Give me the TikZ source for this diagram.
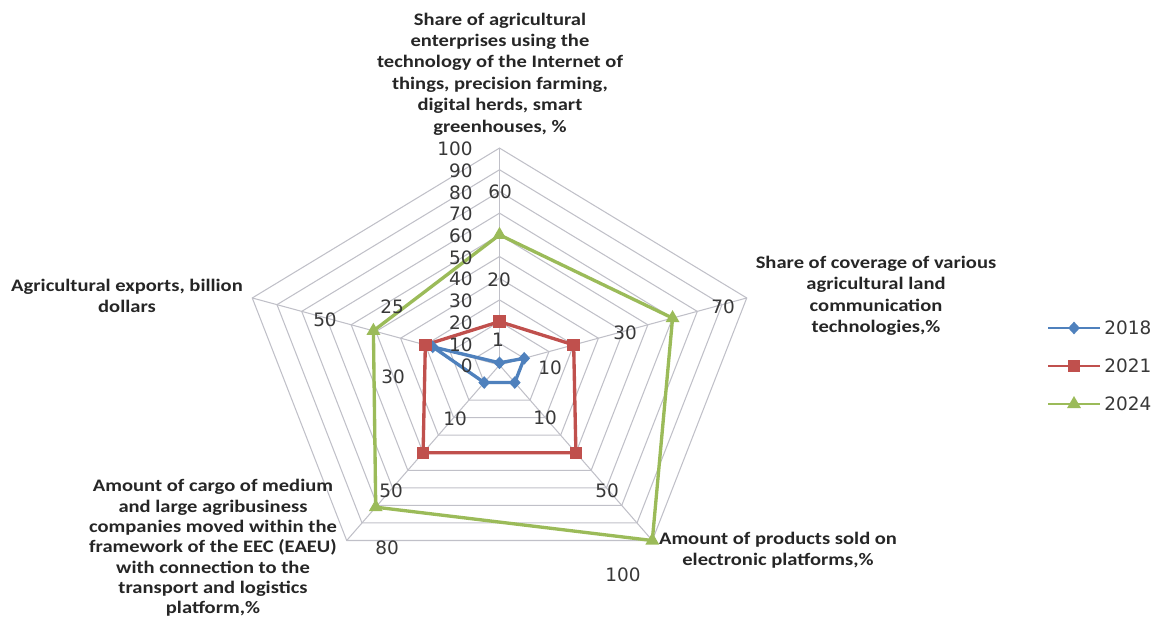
\documentclass[tikz,border=0pt]{standalone}
\usepackage{fontspec}
\setmainfont{Carlito}
\newfontfamily\numfont{DejaVu Sans}
\usetikzlibrary{shapes.geometric}

\definecolor{serA}{HTML}{4F81BD}
\definecolor{serB}{HTML}{C0504D}
\definecolor{serC}{HTML}{9BBB59}
\definecolor{gridc}{HTML}{C0C0C8}
\definecolor{numc}{HTML}{383838}

\begin{document}
\begin{tikzpicture}[x=0.02cm,y=-0.02cm,
  cat/.style={font=\bfseries\fontsize{10}{12.2}\selectfont,align=center,text=black!85,inner sep=0pt,xscale=1.17},
  num/.style={font=\numfont\fontsize{10.5}{12}\selectfont,text=numc,inner sep=0pt},
  gridln/.style={gridc,line width=0.6pt},
  line18/.style={serA,line width=1.9pt,line join=round},
  line21/.style={serB,line width=1.9pt,line join=round},
  line24/.style={serC,line width=1.9pt,line join=round},
  mark18/.style={diamond,fill=serA,inner sep=0pt,minimum width=0.24cm,minimum height=0.26cm},
  mark21/.style={rectangle,fill=serB,inner sep=0pt,minimum size=0.25cm},
  mark24/.style={regular polygon,regular polygon sides=3,fill=serC,inner sep=0pt,minimum size=0.32cm}]

 \useasboundingbox (0,0) rectangle (1159,619);
 \def\cx{499.5}
 \def\cy{365}

 \begin{scope}[shift={(\cx,\cy)}, x=0.052cm, y=0.0434cm]

  %grid
  \foreach \r in {10,20,...,100}
   \draw[gridln] (90:\r) -- (18:\r) -- (-54:\r) -- (-126:\r) -- (162:\r) -- cycle;
  \foreach \a in {90,18,-54,-126,162}
   \draw[gridln] (0,0) -- (\a:100);

  \path coordinate (A1) at (90:1)  coordinate (A2) at (18:10)
  coordinate (A3) at (-54:10) coordinate (A4) at (-126:10)
  coordinate (A5) at (162:27);
  \path coordinate (B1) at (90:20) coordinate (B2) at (18:30)
  coordinate (B3) at (-54:50) coordinate (B4) at (-126:50)
  coordinate (B5) at (162:30);
  \path coordinate (C1) at (90:60) coordinate (C2) at (18:70)
  coordinate (C3) at (-54:100) coordinate (C4) at (-126:81)
  coordinate (C5) at (162:51);

  %2018
  \draw[line18] (A1) -- (A2) -- (A3) -- (A4) -- (A5) -- cycle;
  %2021
  \draw[line21] (B1) -- (B2) -- (B3) -- (B4) -- (B5) -- cycle;
  %2024
  \draw[line24] (C1) -- (C2) -- (C3) -- (C4) -- (C5) -- cycle;

  \foreach \i in {1,...,5} {
   \node(mA\i)[mark18] at (A\i) {};
   \node(mB\i)[mark21] at (B\i) {};
   \node(mC\i)[mark24] at (C\i) {};
  }
 \end{scope}

 %axis values
 \foreach \v in {0,10,...,100}
  \node(ax\v)[num,anchor=east] at (473,{\cy-2.17*\v+1}) {\v};

 %data labels
 \node(lA1)[num] at (498,340) {1};
 \node(lA2)[num] at (550,368) {10};
 \node(lA3)[num] at (545,418) {10};
 \node(lA4)[num] at (455,419) {10};
 \node(lA5)[num] at (393,377) {30};
 \node(lB1)[num] at (499,280) {20};
 \node(lB2)[num] at (625,333) {30};
 \node(lB3)[num] at (607,491) {50};
 \node(lB4)[num] at (391,491) {50};
 \node(lB5)[num] at (392,307) {25};
 \node(lC1)[num] at (500,192) {60};
 \node(lC2)[num] at (723,307) {70};
 \node(lC3)[num] at (623,575) {100};
 \node(lC4)[num] at (387,548) {80};
 \node(lC5)[num] at (325,320) {50};

 %categories
 \node(c1)[cat] at (500,74) {Share of agricultural\\enterprises using the\\technology of the Internet of\\things, precision farming,\\digital herds, smart\\greenhouses, \%};
 \node(c2)[cat] at (876,296) {Share of coverage of various\\agricultural land\\communication\\technologies,\%};
 \node(c3)[cat] at (127,296) {Agricultural exports, billion\\dollars};
 \node(c4)[cat,font=\bfseries\fontsize{10}{11.6}\selectfont] at (213,548) {Amount of cargo of medium\\and large agribusiness\\companies moved within the\\framework of the EEC (EAEU)\\with connection to the\\transport and logistics\\platform,\%};
 \node(c5)[cat] at (778,550) {Amount of products sold on\\electronic platforms,\%};

 %legend
 \foreach \yy/\s/\t in {328/18/2018, 366/21/2021, 404/24/2024} {
  \draw[line\s,line width=1.5pt] (1048,\yy) -- (1100,\yy);
  \node(lm\s)[mark\s] at (1074,\yy) {};
  \node(lt\s)[num,anchor=west] at (1104,\yy) {\t};
 }
\end{tikzpicture}
\end{document}
